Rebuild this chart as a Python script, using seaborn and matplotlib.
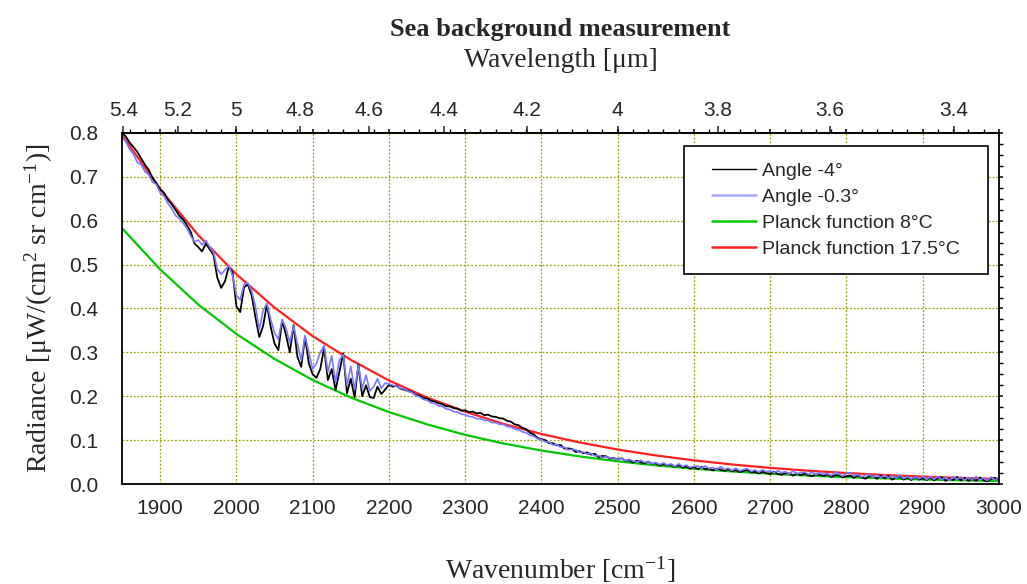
import numpy as np
import pandas as pd
import matplotlib
matplotlib.use('Agg')
import matplotlib.pyplot as plt
import seaborn as sns
from matplotlib.lines import Line2D
from matplotlib.patches import Rectangle
from matplotlib.ticker import MultipleLocator, FixedLocator

# measured spectra, sampled every 5 cm-1 from 1850 to 3000
wavenumber = np.arange(1850, 3001, 5)

angle_m4 = [
    .800, .792, .778, .768, .757, .742, .728, .716, .698, .686,
    .672, .664, .648, .638, .625, .612, .603, .590, .575, .548,
    .540, .530, .548, .535, .522, .470, .447, .462, .495, .482,
    .405, .392, .448, .455, .430, .380, .335, .360, .410, .358,
    .320, .305, .372, .340, .300, .362, .290, .267, .335, .275,
    .250, .242, .262, .310, .237, .262, .214, .255, .298, .207,
    .240, .198, .272, .200, .225, .198, .196, .222, .205, .215,
    .226, .222, .224, .217, .215, .212, .210, .203, .202, .196,
    .195, .190, .188, .184, .182, .177, .177, .173, .172, .167,
    .168, .164, .165, .161, .162, .157, .158, .154, .153, .150,
    .149, .144, .142, .136, .134, .128, .125, .117, .113, .105,
    .102, .100, .093, .093, .088, .089, .081, .081, .080, .073,
    .075, .070, .072, .067, .069, .061, .064, .063, .058, .059,
    .056, .059, .053, .054, .049, .053, .050, .047, .051, .046,
    .047, .042, .046, .042, .044, .039, .043, .038, .040, .035,
    .039, .034, .039, .034, .035, .031, .035, .033, .030, .034,
    .029, .032, .027, .030, .032, .026, .028, .024, .028, .025,
    .023, .028, .023, .021, .025, .024, .019, .024, .020, .024,
    .020, .018, .022, .021, .018, .022, .016, .020, .020, .015,
    .018, .019, .014, .020, .015, .012, .018, .017, .012, .019,
    .013, .018, .010, .015, .017, .010, .015, .009, .017, .010,
    .013, .009, .015, .008, .014, .015, .007, .012, .009, .016,
    .008, .014, .007, .012, .007, .015, .008, .006, .013, .014,
    .009,
]

angle_m03 = [
    .792, .780, .763, .752, .733, .728, .712, .705, .688, .683,
    .664, .656, .640, .628, .612, .606, .595, .583, .566, .552,
    .556, .545, .555, .540, .528, .490, .478, .488, .498, .475,
    .430, .420, .455, .458, .440, .405, .352, .395, .412, .375,
    .345, .330, .375, .355, .322, .360, .320, .282, .338, .300,
    .262, .275, .300, .315, .255, .292, .232, .282, .295, .225,
    .268, .215, .270, .218, .248, .212, .222, .240, .218, .230,
    .228, .225, .223, .218, .217, .211, .209, .202, .199, .193,
    .191, .185, .184, .178, .177, .171, .170, .165, .164, .159,
    .158, .154, .153, .149, .149, .145, .145, .140, .140, .136,
    .136, .131, .130, .125, .124, .119, .117, .111, .109, .103,
    .101, .096, .096, .089, .090, .084, .084, .078, .079, .078,
    .072, .073, .068, .070, .064, .065, .060, .063, .059, .060,
    .055, .059, .053, .056, .052, .050, .054, .049, .051, .046,
    .049, .044, .048, .043, .046, .040, .046, .040, .043, .038,
    .040, .041, .036, .041, .035, .038, .032, .040, .033, .036,
    .031, .036, .030, .033, .035, .029, .032, .027, .032, .028,
    .030, .026, .030, .026, .028, .023, .030, .023, .026, .027,
    .022, .027, .021, .027, .022, .024, .019, .027, .023, .018,
    .025, .026, .018, .022, .016, .021, .022, .015, .020, .015,
    .020, .014, .019, .014, .020, .012, .017, .011, .017, .012,
    .017, .010, .017, .011, .017, .010, .015, .008, .017, .011,
    .016, .009, .015, .010, .017, .009, .014, .008, .016, .009,
    .015,
]

# Planck curves, every 50 cm-1
wn_planck = np.arange(1850, 3001, 50)
planck_8 = [.583, .489, .409, .342, .285, .237, .197, .164, .136, .112,
            .0925, .0763, .0629, .0517, .0425, .0349, .0286, .0234, .0192,
            .0157, .0128, .0104, .0085, .0069]
planck_175 = [.795, .672, .567, .478, .402, .337, .283, .236, .197, .165,
              .137, .114, .0947, .0786, .0651, .0539, .0445, .0368, .0303,
              .0250, .0206, .0169, .0139, .0114]

wl_ticks = [5.4, 5.2, 5, 4.8, 4.6, 4.4, 4.2, 4, 3.8, 3.6, 3.4]
wl_labels = ['5.4', '5.2', '5', '4.8', '4.6', '4.4', '4.2', '4', '3.8', '3.6', '3.4']

meas = pd.DataFrame({'wn': wavenumber, 'a4': angle_m4, 'a03': angle_m03})
planck = pd.DataFrame({'wn': wn_planck, 'p8': planck_8, 'p175': planck_175})

c_black = '#000000'
c_blue = '#7878ff'
c_green = '#00c800'
c_red = '#ff2020'

sns.set_style('white')
plt.rcParams['font.family'] = ['Liberation Sans', 'DejaVu Sans']
plt.rcParams['mathtext.fontset'] = 'custom'
plt.rcParams['mathtext.rm'] = 'Liberation Serif'
plt.rcParams['mathtext.it'] = 'Liberation Serif:italic'

fig, ax = plt.subplots(figsize=(10.27, 5.84), dpi=100)
fig.subplots_adjust(left=0.1188, right=0.9727, bottom=0.1712, top=0.7723)

sns.lineplot(planck, x='wn', y='p8', ax=ax, color=c_green, linewidth=1.6, estimator=None)
sns.lineplot(planck, x='wn', y='p175', ax=ax, color=c_red, linewidth=1.6, estimator=None)
sns.lineplot(meas, x='wn', y='a4', ax=ax, color=c_black, linewidth=1.3, estimator=None)
sns.lineplot(meas, x='wn', y='a03', ax=ax, color=c_blue, linewidth=1.2, estimator=None)

ax.set_xlim(1850, 3000)
ax.set_ylim(0, 0.8)
ax.xaxis.set_major_locator(FixedLocator(np.arange(1900, 3001, 100)))
ax.xaxis.set_minor_locator(MultipleLocator(20))
ax.yaxis.set_major_locator(MultipleLocator(0.1))
ax.yaxis.set_minor_locator(MultipleLocator(0.025))
ax.yaxis.set_major_formatter(matplotlib.ticker.FormatStrFormatter('%.1f'))

ax.grid(True, which='major', color='#a0a000', linestyle=(0, (1.5, 1.5)), linewidth=0.9)
for s in ax.spines.values():
    s.set_linewidth(1.3)
    s.set_color('black')

ax.tick_params(axis='both', which='major', direction='out', length=9, width=1.1,
               labelsize=15, color='black')
ax.tick_params(axis='both', which='minor', direction='out', length=4.8, width=1.0, color='black')
ax.tick_params(axis='x', which='major', pad=2)
ax.tick_params(axis='y', which='major', pad=8)
ax.tick_params(axis='both', which='both', top=True, right=True)
ax.tick_params(axis='x', which='both', top=True, labeltop=False)
# short ticks on the mirrored top / right sides
for t in ax.xaxis.get_ticklines(minor=True)[1::2] + ax.xaxis.get_ticklines()[1::2]:
    t.set_markersize(3)
for t in ax.yaxis.get_ticklines(minor=True)[1::2] + ax.yaxis.get_ticklines()[1::2]:
    t.set_markersize(3)

ax.set_xlabel('Wavenumber [cm$^{\\mathrm{-1}}$]', family='Liberation Serif', fontsize=20, labelpad=26)
ax.set_ylabel('Radiance [\u03bcW/(cm$^{\\mathrm{2}}$ sr cm$^{\\mathrm{-1}}$)]',
              family='Liberation Serif', fontsize=20, labelpad=10)

# wavelength axis on top
secax = ax.secondary_xaxis('top', functions=(lambda x: 1e4 / x, lambda x: 1e4 / x))
secax.set_xticks(wl_ticks)
secax.set_xticklabels(wl_labels)
secax.xaxis.set_minor_locator(FixedLocator([]))
secax.tick_params(axis='x', direction='out', length=5, width=1.1, labelsize=15, pad=4.5)
secax.spines['top'].set_linewidth(1.3)
secax.set_xlabel('Wavelength [\u03bcm]', family='Liberation Serif', fontsize=20, labelpad=24)

fig.text(0.545, 0.950, 'Sea background measurement', family='Liberation Serif',
         fontsize=19, fontweight='bold', ha='center', va='center')

# legend
box = (0.641, 0.598, 0.346, 0.365)
ax.add_patch(Rectangle(box[:2], box[2], box[3], transform=ax.transAxes, facecolor='white',
                       edgecolor='black', linewidth=1.2, zorder=5))
handles = [Line2D([], [], color=c_black, linewidth=1.0),
           Line2D([], [], color='#a8a8ff', linewidth=1.8),
           Line2D([], [], color=c_green, linewidth=1.8),
           Line2D([], [], color=c_red, linewidth=1.8)]
labels = ['Angle -4\u00b0', 'Angle -0.3\u00b0', 'Planck function 8\u00b0C', 'Planck function 17.5\u00b0C']
leg = ax.legend(handles, labels, loc='center', bbox_to_anchor=box, frameon=False,
                fontsize=14, handlelength=2.3, handletextpad=0.3, labelspacing=0.42)
leg.set_zorder(6)

fig.savefig('out.png', dpi=100)
